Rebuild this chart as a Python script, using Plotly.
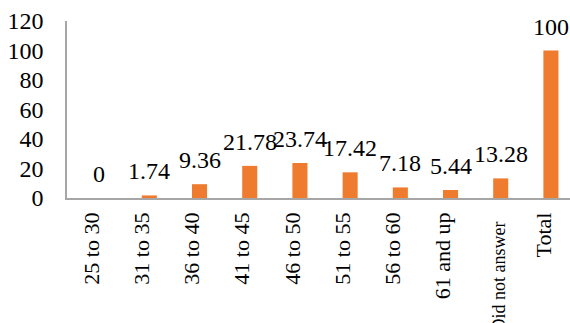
import plotly.graph_objects as go

# Age groups of respondents (percent)
categories = ["25 to 30", "31 to 35", "36 to 40", "41 to 45", "46 to 50",
              "51 to 55", "56 to 60", "61 and up", "Did not answer", "Total"]
percentages = [0, 1.74, 9.36, 21.78, 23.74, 17.42, 7.18, 5.44, 13.28, 100]
y_ticks = [0, 20, 40, 60, 80, 100, 120]

SERIF = "Liberation Serif, Times New Roman, serif"

positions = list(range(len(categories)))

# long label gets a smaller font; rotated labels sit a touch left of the bar
tick_text = []
tick_pos = []
for i, c in zip(positions, categories):
    if c == "Did not answer":
        tick_text.append(f"<span style='font-size:18px'>{c}&nbsp;&nbsp;</span>")
        tick_pos.append(i - 0.05)
    else:
        tick_text.append(c)
        tick_pos.append(i - 0.15)

fig = go.Figure(
    go.Bar(
        x=positions,
        y=percentages,
        width=0.3,
        marker=dict(color="#EF7B2E", line=dict(width=0)),
        customdata=categories,
        hovertemplate="%{customdata}: %{y}<extra></extra>",
    )
)

# value labels above each bar
for i, val in zip(positions, percentages):
    fig.add_annotation(
        x=i, y=val, text=f"{val:g}", showarrow=False,
        yanchor="bottom", yshift=9,
        font=dict(family=SERIF, size=24, color="#000000"),
    )

fig.update_layout(
    width=570, height=323,
    margin=dict(l=67, r=0, t=21, b=125),
    paper_bgcolor="white", plot_bgcolor="white",
    showlegend=False,
    font=dict(family=SERIF, size=22, color="#000000"),
)
fig.update_xaxes(
    tickmode="array", tickvals=tick_pos, ticktext=tick_text,
    tickangle=-90,
    range=[-0.64, 9.38],
    automargin=False,
    showline=True, linecolor="#A6A6A6", linewidth=1.5,
    showgrid=False, zeroline=False, ticks="", ticklabelstandoff=4,
    tickfont=dict(family=SERIF, size=22, color="#000000"),
)
fig.update_yaxes(
    range=[0, 120],
    tickvals=y_ticks,
    automargin=False,
    showline=True, linecolor="#A6A6A6", linewidth=1.5,
    showgrid=False, zeroline=False, ticks="", ticklabelstandoff=17,
    tickfont=dict(family=SERIF, size=24, color="#000000"),
)

fig.write_html("out.html")
